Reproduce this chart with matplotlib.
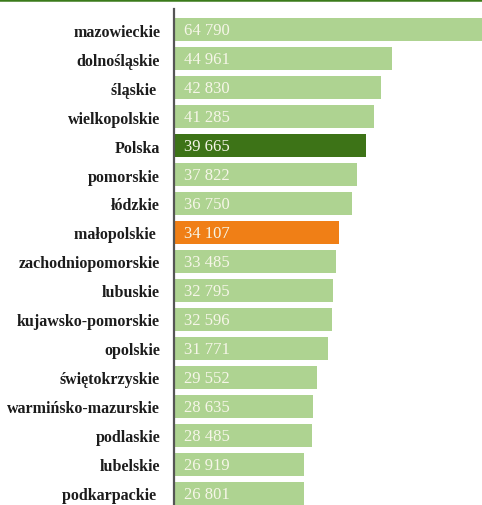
import matplotlib
matplotlib.use("Agg")
import matplotlib.pyplot as plt
from matplotlib.lines import Line2D

# Regions sorted by value, with Polska as the national reference
regions = ['mazowieckie', 'dolnośląskie', 'śląskie ', 'wielkopolskie', 'Polska',
           'pomorskie', 'łódzkie', 'małopolskie ', 'zachodniopomorskie', 'lubuskie',
           'kujawsko-pomorskie', 'opolskie', 'świętokrzyskie', 'warmińsko-mazurskie',
           'podlaskie', 'lubelskie', 'podkarpackie ']
values = [64790, 44961, 42830, 41285, 39665, 37822, 36750, 34107, 33485, 32795,
          32596, 31771, 29552, 28635, 28485, 26919, 26801]

light_green = '#aed391'
dark_green = '#3d7317'
orange = '#f07f16'
colors = []
for r in regions:
    if r.strip() == 'Polska':
        colors.append(dark_green)
    elif r.strip() == 'małopolskie':
        colors.append(orange)
    else:
        colors.append(light_green)

W, H = 482, 506
fig = plt.figure(figsize=(W / 100, H / 100), dpi=100)
ax = fig.add_axes([174 / W, 0, 1 - 174 / W, 1])

y = list(range(len(regions)))
ax.barh(y, values, height=0.8, color=colors, left=0)

ax.set_xlim(0, 63600)
ax.set_ylim(16.397, -1.052)

for i, v in enumerate(values):
    label = f'{v:,}'.replace(',', ' ')
    ax.annotate(label, xy=(0, i), xytext=(7, -0.5), textcoords='offset points',
                va='center', ha='left', color='#f6f6e8',
                fontsize=12, family='Liberation Serif')

ax.set_yticks(y)
ax.set_yticklabels(regions, fontsize=11.5, family='Liberation Serif',
                   fontweight='bold', color='#1c1c1c')
ax.tick_params(axis='y', length=0, pad=10)
ax.set_xticks([])

for s in ['top', 'right', 'bottom']:
    ax.spines[s].set_visible(False)
ax.spines['left'].set_color('#555555')
ax.spines['left'].set_linewidth(1.6)
ax.spines['left'].set_bounds(-0.7, 16.4)

# dark green rule along the top edge
fig.add_artist(Line2D([0, 1], [1 - 1.2 / H, 1 - 1.2 / H], transform=fig.transFigure,
                      color='#3a7a1a', linewidth=1.8))

fig.savefig('out.png', dpi=100)
